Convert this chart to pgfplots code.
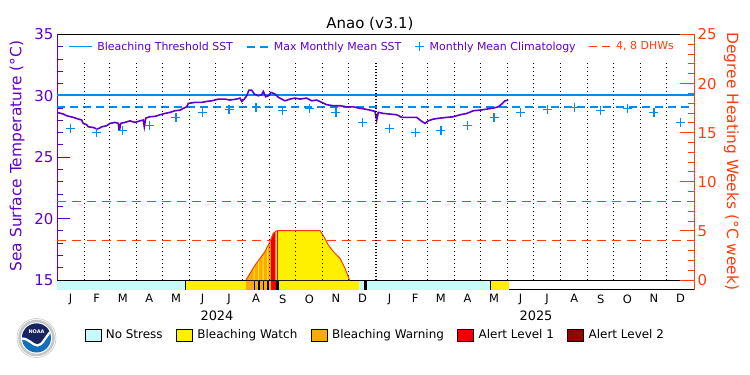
\documentclass[border=0pt]{standalone}
\usepackage{pgfplots}
\pgfplotsset{compat=1.18}
\usepackage{fontspec}
\setmainfont{DejaVu Sans}
\definecolor{sstpurple}{RGB}{96,0,200}
\definecolor{thrblue}{RGB}{0,140,240}
\definecolor{dhwred}{RGB}{255,60,10}
\definecolor{nostress}{RGB}{200,250,250}
\definecolor{watch}{RGB}{255,240,0}
\definecolor{warning}{RGB}{250,170,10}
\definecolor{alertone}{RGB}{240,0,0}
\definecolor{alerttwo}{RGB}{150,0,0}
\definecolor{noaanavy}{RGB}{25,35,95}
\definecolor{noaablue}{RGB}{20,110,190}
\pgfplotsset{
  linelegend/.style={legend image code/.code={\draw[##1] (0bp,0bp) -- (23bp,0bp);}},
  dashlegend/.style={legend image code/.code={\draw[##1] (0bp,0bp) -- (21bp,0bp);}},
  pluslegend/.style={legend image code/.code={\draw[thrblue, line width=1.3bp] (1.5bp,0bp)--(10.5bp,0bp) (6bp,-4.5bp)--(6bp,4.5bp);}},
  boxlegend/.style={legend image code/.code={\draw[fill=#1, draw=black, line width=0.8bp] (0bp,-6bp) rectangle (16bp,6bp);}},
}
\begin{document}
\begin{tikzpicture}
\path[use as bounding box] (0,0) rectangle (750bp,375bp);
% ---------------- SST axis ----------------
\begin{axis}[
  at={(57bp,85bp)}, anchor=south west, scale only axis,
  width=637bp, height=255.5bp,
  xmin=0, xmax=731, ymin=14.19, ymax=35,
  separate axis lines,
  x axis line style={black, line width=1bp},
  y axis line style={sstpurple, line width=1bp},
  xtick={15.5,45.5,75.5,106,136.5,167,197.5,228.5,259,289.5,320,350.5,381.5,411,440.5,471,501.5,532,562.5,593.5,624,654.5,685,715.5},
  xticklabels={J,F,M,A,M,J,J,A,S,O,N,D,J,F,M,A,M,J,J,A,S,O,N,D},
  xtick style={draw=none},
  x tick label style={font=\fontsize{11.5}{13}\selectfont, text=black, yshift=-1bp},
  ytick={15,20,25,30,35}, minor ytick={16,17,18,19,21,22,23,24,26,27,28,29,31,32,33,34},
  ytick pos=left,
  tick align=inside, major tick length=13bp, minor tick length=6bp,
  y tick style={sstpurple, line width=1bp},
  yticklabel style={text=sstpurple, font=\fontsize{15}{16}\selectfont},
  /pgf/number format/assume math mode=true,
  legend columns=4,
  legend style={at={(0.5,1)}, anchor=north, xshift=-3.5bp, yshift=-5bp,
    draw=none, fill=none, inner sep=0pt,
    font=\fontsize{11}{13}\selectfont, text=sstpurple,
    nodes={inner sep=2bp},
    /tikz/every odd column/.append style={column sep=3bp},
    /tikz/every even column/.append style={column sep=11bp}},
]
% stress bar
\addplot[fill=nostress, draw=none, forget plot] coordinates {(0,14.19)(0,15)(146.5,15)(146.5,14.19)};
\addplot[fill=black, draw=none, forget plot] coordinates {(146.5,14.19)(146.5,15)(148.5,15)(148.5,14.19)};
\addplot[fill=watch, draw=none, forget plot] coordinates {(148.5,14.19)(148.5,15)(217,15)(217,14.19)};
\addplot[fill=warning, draw=none, forget plot] coordinates {(217,14.19)(217,15)(245.2,15)(245.2,14.19)};
\addplot[fill=black, draw=none, forget plot] coordinates {(225.6,14.19)(225.6,15)(227.6,15)(227.6,14.19)};
\addplot[fill=black, draw=none, forget plot] coordinates {(230.8,14.19)(230.8,15)(232.8,15)(232.8,14.19)};
\addplot[fill=black, draw=none, forget plot] coordinates {(236,14.19)(236,15)(238,15)(238,14.19)};
\addplot[fill=black, draw=none, forget plot] coordinates {(241.2,14.19)(241.2,15)(243.2,15)(243.2,14.19)};
\addplot[fill=alertone, draw=none, forget plot] coordinates {(245.2,14.19)(245.2,15)(251,15)(251,14.19)};
\addplot[fill=black, draw=none, forget plot] coordinates {(251,14.19)(251,15)(254.5,15)(254.5,14.19)};
\addplot[fill=watch, draw=none, forget plot] coordinates {(254.5,14.19)(254.5,15)(347,15)(347,14.19)};
\addplot[fill=nostress, draw=none, forget plot] coordinates {(347,14.19)(347,15)(352.3,15)(352.3,14.19)};
\addplot[fill=black, draw=none, forget plot] coordinates {(352.3,14.19)(352.3,15)(356,15)(356,14.19)};
\addplot[fill=nostress, draw=none, forget plot] coordinates {(356,14.19)(356,15)(497.5,15)(497.5,14.19)};
\addplot[fill=black, draw=none, forget plot] coordinates {(497,14.19)(497,15)(498.3,15)(498.3,14.19)};
\addplot[fill=watch, draw=none, forget plot] coordinates {(498.3,14.19)(498.3,15)(518.7,15)(518.7,14.19)};
\addplot[black, line width=1bp, forget plot] coordinates {(0,15)(731,15)};
% threshold lines
\addplot[thrblue, line width=1.2bp, linelegend]
  coordinates {(0,30.07)(731,30.07)};
\addlegendentry{Bleaching Threshold SST}
\addplot[color=thrblue, line width=2bp, dash pattern=on 8bp off 5bp, dashlegend]
  coordinates {(0,29.09)(731,29.09)};
\addlegendentry{Max Monthly Mean SST}
% climatology
\addplot[thrblue, only marks, mark=+, mark size=4.5bp, line width=1.3bp, pluslegend]
  coordinates {(15.5,27.35)(45.5,27.03)(75.5,27.16)(106,27.57)(136.5,28.22)(167,28.66)(197.5,28.90)(228.5,29.06)(259,28.79)(289.5,28.95)(320,28.62)(350.5,27.84)
  (381.5,27.35)(411,27.03)(440.5,27.16)(471,27.57)(501.5,28.22)(532,28.66)(562.5,28.90)(593.5,29.06)(624,28.79)(654.5,28.95)(685,28.62)(715.5,27.84)};
\addlegendentry{Monthly Mean Climatology}
\addlegendimage{dhwred, line width=1.5bp, dash pattern=on 8bp off 5bp, dashlegend}
\addlegendentry{\textcolor{dhwred}{4, 8 DHWs}}
% SST
\addplot[sstpurple, line width=1.6bp, forget plot] coordinates {
(0,28.66)(7.3,28.52)(11.1,28.38)(18.7,28.25)(24.5,28.11)(28,28.05)(30.2,27.76)(34,27.65)(35.9,27.48)(41.7,27.43)(45.5,27.30)(48,27.35)(51.3,27.48)(57,27.57)(60.8,27.76)(66.6,27.84)(70.4,27.76)(71.1,27.30)(72,27.30)(73.1,27.76)(78,27.84)(83.8,27.97)(89.5,27.84)(95.2,27.97)(99,28.03)(100.2,27.48)(101.8,28.19)(106.7,28.30)(112.5,28.33)(118.2,28.46)(123.9,28.57)(129.7,28.66)(135.4,28.79)(141.2,28.84)(145,28.98)(148.8,29.11)(150.7,29.39)(158.4,29.47)(166,29.47)(171.8,29.55)(177.5,29.60)(185.2,29.74)(192.8,29.74)(198.5,29.66)(206.2,29.74)(210,29.82)(212,29.55)(215,29.74)(217.7,30.01)(220.3,30.47)(223.4,30.47)(226.4,30.15)(231,30.01)(234.9,30.09)(236.8,30.36)(239.5,29.93)(242.5,30.01)(245.6,30.28)(250.2,30.15)(254,29.88)(257.8,29.74)(261.6,29.60)(267.4,29.74)(273.1,29.82)(278.9,29.74)(286.5,29.82)(292.3,29.60)(298,29.66)(303.8,29.47)(309.5,29.28)(317.1,29.20)(324.8,29.20)(332.5,29.11)(340.1,29.11)(345.8,29.01)(353.5,28.92)(359.2,28.84)(364.9,28.74)(366.9,28.03)(368.7,28.66)(374.5,28.57)(382.1,28.52)(389.8,28.46)(395.6,28.25)(405.1,28.25)(412.8,28.25)(416.6,28.03)(422.3,27.76)(426.1,27.97)(431.8,28.11)(439.5,28.19)(447.2,28.25)(454.8,28.30)(462.5,28.46)(470.2,28.57)(477.8,28.79)(485.4,28.84)(493.1,28.92)(500.7,29.01)(506.4,29.11)(510.3,29.33)(514.1,29.60)(517.9,29.66)};
\end{axis}
% ---------------- DHW axis ----------------
\begin{axis}[
  at={(57bp,85bp)}, anchor=south west, scale only axis,
  width=637bp, height=255.5bp,
  xmin=0, xmax=731, ymin=-1.018, ymax=25,
  hide x axis, axis y line*=right,
  y axis line style={dhwred, line width=1bp},
  ytick={0,5,10,15,20,25}, minor ytick={1,2,3,4,6,7,8,9,11,12,13,14,16,17,18,19,21,22,23,24},
  tick align=inside, major tick length=14bp, minor tick length=6bp,
  y tick style={dhwred, line width=1bp},
  yticklabel style={text=dhwred, font=\fontsize{15}{16}\selectfont},
  /pgf/number format/assume math mode=true,
  legend columns=5,
  legend style={at={(0.5,0)}, anchor=center, xshift=0bp, yshift=-45bp,
    draw=none, fill=none, inner sep=0pt,
    font=\fontsize{12}{14}\selectfont, text=black,
    nodes={inner sep=2.5bp},
    /tikz/every odd column/.append style={column sep=2bp},
    /tikz/every even column/.append style={column sep=11bp}},
]
\addplot[dhwred, line width=1.5bp, dash pattern=on 9bp off 6bp, forget plot] coordinates {(0,4)(731,4)};
\addplot[dhwred, line width=1.5bp, dash pattern=on 9bp off 6bp, forget plot] coordinates {(0,8)(731,8)};
% DHW area, coloured by the stress level of each day
\addplot[fill=warning, draw=none, forget plot] coordinates {(216.9,0)(221.5,0.68)(227.2,1.5)(233,2.2)(238.7,2.9)(244.4,3.9)(245.2,4.08)(245.2,0)};
\addplot[fill=watch, draw=none, forget plot] coordinates {(225.6,0)(225.6,1.27)(226.8,1.44)(226.8,0)};
\addplot[fill=watch, draw=none, forget plot] coordinates {(230.8,0)(230.8,1.93)(232,2.08)(232,0)};
\addplot[fill=watch, draw=none, forget plot] coordinates {(236,0)(236,2.57)(237.2,2.72)(237.2,0)};
\addplot[fill=watch, draw=none, forget plot] coordinates {(241.2,0)(241.2,3.34)(242.4,3.55)(242.4,0)};
\addplot[fill=alertone, draw=none, forget plot] coordinates {(245.2,0)(245.2,4.08)(248.2,4.76)(251,4.94)(251,0)};
\addplot[fill=watch, draw=none, forget plot] coordinates {(251,0)(251,4.94)(252.5,5.03)(301.8,5.03)(306.4,4.4)(311.3,3.57)(317.1,2.9)(324.8,2.2)(330.5,1.2)(335.4,0.07)(336,0)};
\addplot[dhwred, line width=1bp, forget plot] coordinates {
(216.9,0)(221.5,0.68)(227.2,1.5)(233,2.2)(238.7,2.9)(244.4,3.9)(248.2,4.76)(252.5,5.03)(301.8,5.03)(306.4,4.4)(311.3,3.57)(317.1,2.9)(324.8,2.2)(330.5,1.2)(335.4,0.07)(336,0)};
\addplot[alertone, line width=1bp, forget plot] coordinates {(252.5,0)(252.5,5.03)};
% month grid
\pgfplotsinvokeforeach{31,60,91,121,152,182,213,244,274,305,335,397,425,456,486,517,547,578,609,639,670,700}{
  \draw[black, line width=1bp, dash pattern=on 1bp off 3bp] (axis cs:#1,0) -- (axis cs:#1,22.1);}
\draw[black, line width=1.3bp, dash pattern=on 1.5bp off 1.5bp] (axis cs:366,0) -- (axis cs:366,22.1);
% stress legend
\addlegendimage{boxlegend=nostress}
\addlegendentry{No Stress}
\addlegendimage{boxlegend=watch}
\addlegendentry{Bleaching Watch}
\addlegendimage{boxlegend=warning}
\addlegendentry{Bleaching Warning}
\addlegendimage{boxlegend=alertone}
\addlegendentry{Alert Level 1}
\addlegendimage{boxlegend=alerttwo}
\addlegendentry{Alert Level 2}
\end{axis}
% ---------------- texts ----------------
\node[anchor=base, font=\fontsize{15}{17}\selectfont] at (370bp,346.5bp) {Anao (v3.1)};
\node[rotate=90, text=sstpurple, font=\fontsize{15.5}{17}\selectfont] at (17bp,219bp) {Sea Surface Temperature (°C)};
\node[rotate=-90, text=dhwred, font=\fontsize{15.5}{17}\selectfont] at (731.5bp,213.5bp) {Degree Heating Weeks (°C week)};
\node[font=\fontsize{13}{15}\selectfont] at (217bp,59bp) {2024};
\node[font=\fontsize{13}{15}\selectfont] at (536bp,59bp) {2025};
% NOAA logo
\begin{scope}[shift={(36.5bp,37bp)}]
  \fill[white] (0,0) circle (20bp);
  \draw[gray!50, line width=0.5bp] (0,0) circle (19.5bp);
  \draw[gray!45, line width=2.5bp] (0,0) circle (17bp);
  \begin{scope}
    \clip (0,0) circle (14.5bp);
    \fill[noaablue] (-15bp,-15bp) rectangle (15bp,15bp);
    \fill[noaanavy] (-15bp,1bp) .. controls (-7bp,1bp) and (-4bp,-6bp) .. (1bp,-6bp) .. controls (6bp,-6bp) and (9bp,3bp) .. (15bp,9bp) -- (15bp,15bp) -- (-15bp,15bp) -- cycle;
    \draw[white, line width=2.2bp] (-15bp,-0.5bp) .. controls (-7bp,-0.5bp) and (-4bp,-7.5bp) .. (1bp,-7.5bp) .. controls (6bp,-7.5bp) and (9bp,1.5bp) .. (15bp,7.5bp);
  \end{scope}
  \node[white, font=\bfseries\fontsize{5}{5}\selectfont] at (0,6.5bp) {NOAA};
\end{scope}
\end{tikzpicture}
\end{document}
